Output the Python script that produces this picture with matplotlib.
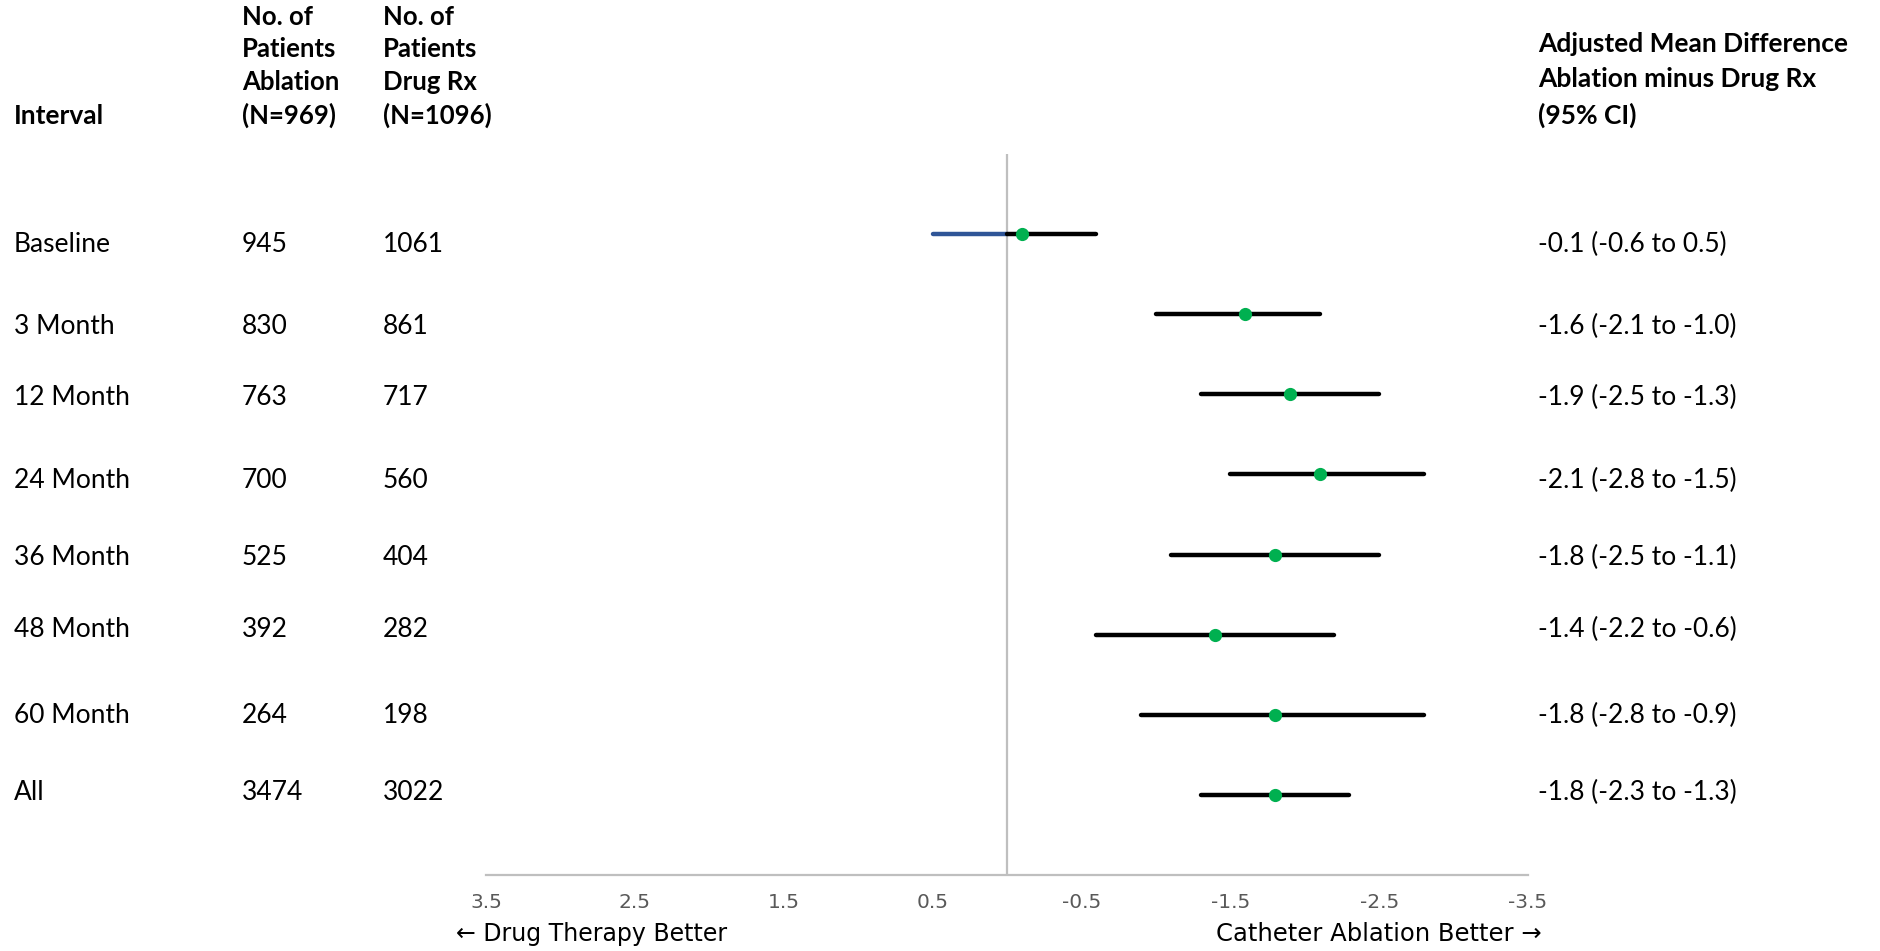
import numpy as np
import matplotlib.pyplot as plt
from matplotlib import transforms

# dados
intervals = ["Baseline", "3 Month", "12 Month", "24 Month", "36 Month", "48 Month", "60 Month", "All"]
n_ablation = [945, 830, 763, 700, 525, 392, 264, 3474]
n_drug = [1061, 861, 717, 560, 404, 282, 198, 3022]
mean_diff = [-0.1, -1.6, -1.9, -2.1, -1.8, -1.4, -1.8, -1.8]
ci_low = [-0.6, -2.1, -2.5, -2.8, -2.5, -2.2, -2.8, -2.3]
ci_high = [0.5, -1.0, -1.3, -1.5, -1.1, -0.6, -0.9, -1.3]
xticks = [3.5, 2.5, 1.5, 0.5, -0.5, -1.5, -2.5, -3.5]

# deslocamento vertical do texto de cada linha (as linhas de texto nao sao regulares na original)
text_shift = [0.125, 0.155, 0.036, 0.081, 0.036, -0.069, 0.009, -0.024]

FONT = ['Lato', 'DejaVu Sans']
NARROW = ['Liberation Sans Narrow', 'DejaVu Sans']
FS = 19
W, H = 1881, 951

fig = plt.figure(figsize=(W/100, H/100), dpi=100)
ax = fig.add_axes([486/W, 1-875/H, (1528-486)/W, (875-154)/H])

rows = np.arange(len(intervals))

# linha vertical do zero
ax.axvline(0, color='#BFBFBF', lw=1.6, zorder=1)

for i in rows:
    lo, hi = ci_low[i], ci_high[i]
    if hi > 0:
        # parte positiva do IC em azul
        ax.plot([0, hi], [i, i], color='#2F5597', lw=3.2, solid_capstyle='round', zorder=2)
        ax.plot([lo, 0], [i, i], color='black', lw=3.2, solid_capstyle='round', zorder=2)
    else:
        ax.plot([lo, hi], [i, i], color='black', lw=3.2, solid_capstyle='round', zorder=2)
    ax.plot(mean_diff[i], i, 'o', color='#00B050', ms=9.5, mec='none', zorder=3)

ax.set_xlim(3.5, -3.5)
ax.set_ylim(8, -1)
for s in ['top', 'right', 'left']:
    ax.spines[s].set_visible(False)
ax.spines['bottom'].set_color('#BFBFBF')
ax.spines['bottom'].set_linewidth(1.6)
ax.set_yticks([])
ax.set_xticks(xticks)
ax.set_xticklabels([f'{v:g}' for v in xticks], family=NARROW, fontsize=14.5, color='#595959')
ax.tick_params(axis='x', length=0, pad=13)

# colunas de texto
trans = transforms.blended_transform_factory(fig.transFigure, ax.transData)
for i in rows:
    y = i + text_shift[i]
    ax.text(14/W, y, intervals[i], transform=trans, family=FONT, fontsize=FS, va='center', clip_on=False)
    ax.text(242/W, y, str(n_ablation[i]), transform=trans, family=FONT, fontsize=FS, va='center', clip_on=False)
    ax.text(383/W, y, str(n_drug[i]), transform=trans, family=FONT, fontsize=FS, va='center', clip_on=False)
    ax.text(1538/W, y, f'{mean_diff[i]:.1f} ({ci_low[i]:.1f} to {ci_high[i]:.1f})',
            transform=trans, family=FONT, fontsize=FS, va='center', clip_on=False)

# cabecalhos
fig.text(14/W, 1-128/H, "Interval", family=FONT, fontsize=FS, weight='bold', va='bottom')
fig.text(242/W, 1-128/H, "No. of\nPatients\nAblation\n(N=969)", family=FONT, fontsize=18.5,
         weight='bold', va='bottom', linespacing=1.42)
fig.text(383/W, 1-128/H, "No. of\nPatients\nDrug Rx\n(N=1096)", family=FONT, fontsize=18.5,
         weight='bold', va='bottom', linespacing=1.42)
fig.text(1538/W, 1-128/H, "Adjusted Mean Difference\nAblation minus Drug Rx\n(95% CI)", family=FONT,
         fontsize=FS, weight='bold', va='bottom', linespacing=1.55)

# rotulos de direcao
fig.text(456/W, 1-934/H, "← Drug Therapy Better", family=NARROW, fontsize=17, va='center')
fig.text(1542/W, 1-934/H, "Catheter Ablation Better →", family=NARROW, fontsize=17.5, va='center', ha='right')

fig.savefig('out.png', dpi=100)
